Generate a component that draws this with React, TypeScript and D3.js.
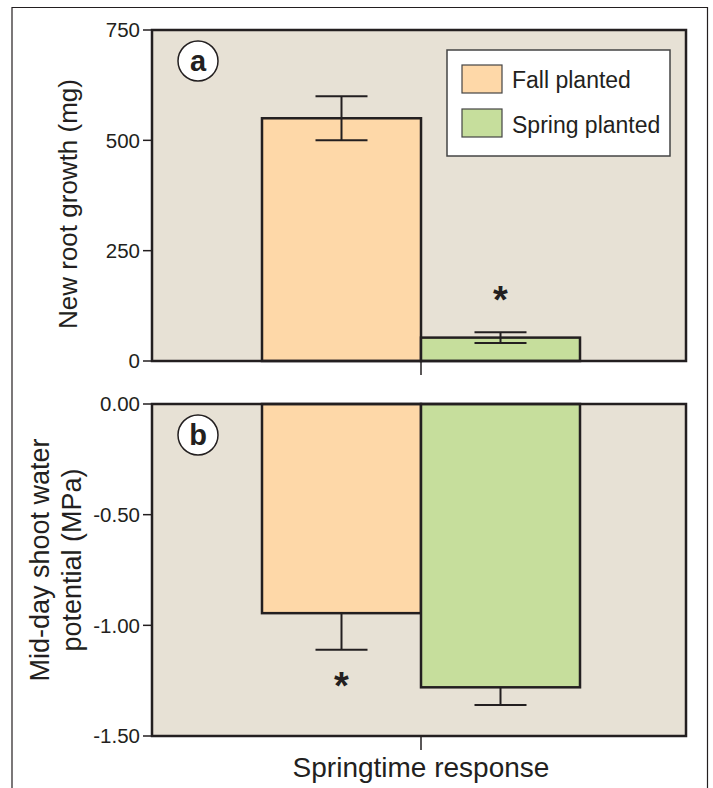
import React from "react";
import * as d3 from "d3";

const groups = ["Fall planted", "Spring planted"];
const colors = ["#FED8A8", "#C6DE9C"];
const rootMeans = [550, 53];
const rootErr = [50, 12];
const rootSig = [false, true];
const rootTicks = [0, 250, 500, 750];
const waterMeans = [-0.945, -1.28];
const waterErr = [0.165, 0.08];
const waterSig = [true, false];
const waterTicks = [0, -0.5, -1.0, -1.5];
const category = "Springtime response";

const W = 713, H = 788;
const L = 152, R = 686;
const FONT = "Liberation Sans, Arial, sans-serif";
const INK = "#231f20";
const BG = "#E7E1D5";

export default function App() {
  const cx = 421;
  const bw = 159;
  const xs = d3.scaleBand().domain(groups).range([cx - bw, cx + bw]);

  const yA = d3.scaleLinear().domain([0, 750]).range([361, 30]);
  const yB = d3.scaleLinear().domain([-1.5, 0]).range([736, 404]);

  const panel = (
    y: d3.ScaleLinear<number, number>,
    means: number[],
    errs: number[],
    sig: boolean[],
    ticks: number[],
    fmt: (v: number) => string,
    letter: string,
    negative: boolean
  ) => {
    const [yb, yt] = y.range();
    const zero = y(0);
    return (
      <g>
        <rect x={L} y={yt} width={R - L} height={yb - yt} fill={BG} />
        {means.map((m, i) => {
          const x0 = xs(groups[i])!;
          const top = Math.min(y(m), zero);
          const h = Math.abs(y(m) - zero);
          const bc = x0 + xs.bandwidth() / 2;
          const ye = y(m + (negative ? -errs[i] : errs[i]));
          const yInner = y(m + (negative ? errs[i] : -errs[i]));
          return (
            <g key={i}>
              <rect x={x0} y={top} width={xs.bandwidth()} height={h} fill={colors[i]} stroke={INK} strokeWidth={2.5} />
              <line x1={bc} x2={bc} y1={negative ? y(m) : yInner} y2={ye} stroke={INK} strokeWidth={2} />
              <line x1={bc - 26} x2={bc + 26} y1={ye} y2={ye} stroke={INK} strokeWidth={2} />
              {!negative && <line x1={bc - 26} x2={bc + 26} y1={yInner} y2={yInner} stroke={INK} strokeWidth={2} />}
              {sig[i] && (
                <text x={bc} y={negative ? ye + 49 : ye - 19} textAnchor="middle" fontFamily={FONT} fontWeight="bold" fontSize={38} fill={INK}>*</text>
              )}
            </g>
          );
        })}
        <rect x={L} y={yt} width={R - L} height={yb - yt} fill="none" stroke={INK} strokeWidth={2.5} />
        {ticks.map((t) => (
          <g key={t}>
            <line x1={L - 9} x2={L} y1={y(t)} y2={y(t)} stroke={INK} strokeWidth={1.5} />
            <text x={L - 12} y={y(t)} dy="0.35em" textAnchor="end" fontFamily={FONT} fontSize={20.5} fill={INK}>{fmt(t)}</text>
          </g>
        ))}
        <line x1={cx} x2={cx} y1={yb} y2={yb + 14} stroke={INK} strokeWidth={1.5} />
        <circle cx={198} cy={yt + 31} r={20} fill="white" stroke={INK} strokeWidth={1.5} />
        <text x={198} y={yt + 31} dy="0.36em" textAnchor="middle" fontFamily={FONT} fontWeight="bold" fontSize={29} fill={INK}>{letter}</text>
      </g>
    );
  };

  return (
    <svg width={W} height={H} style={{ position: "absolute", left: 0, top: 0 }}>
      <rect x={0} y={0} width={W} height={H} fill="white" />
      <path d={`M12,${H} V7.5 H707.5 V${H}`} fill="none" stroke={INK} strokeWidth={1.2} />
      {panel(yA, rootMeans, rootErr, rootSig, rootTicks, (v) => String(v), "a", false)}
      {panel(yB, waterMeans, waterErr, waterSig, waterTicks, (v) => v.toFixed(2), "b", true)}
      <text transform="translate(77,204) rotate(-90)" textAnchor="middle" fontFamily={FONT} fontSize={26} fill={INK}>New root growth (mg)</text>
      <text transform="translate(49,560) rotate(-90)" textAnchor="middle" fontFamily={FONT} fontSize={27} fill={INK}>Mid-day shoot water</text>
      <text transform="translate(81,560) rotate(-90)" textAnchor="middle" fontFamily={FONT} fontSize={27} fill={INK}>potential (MPa)</text>
      <text x={cx} y={777} textAnchor="middle" fontFamily={FONT} fontSize={28} fill={INK}>{category}</text>
      <g>
        <rect x={447} y={50} width={223} height={106} fill="white" stroke="#444" strokeWidth={1.5} />
        {groups.map((g, i) => (
          <g key={g}>
            <rect x={462} y={65 + i * 44} width={40} height={28} fill={colors[i]} stroke="#444" strokeWidth={1.2} />
            <text x={512} y={80 + i * 45} dy="0.36em" fontFamily={FONT} fontSize={23} fill={INK}>{g}</text>
          </g>
        ))}
      </g>
    </svg>
  );
}
